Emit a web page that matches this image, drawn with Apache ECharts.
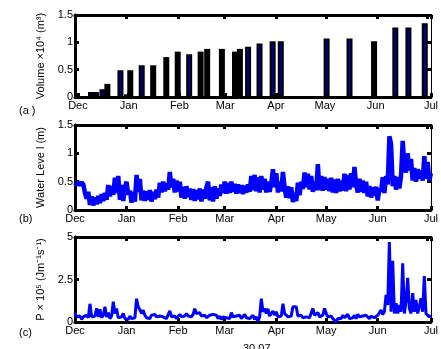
<!DOCTYPE html>
<html>
<head>
<meta charset="utf-8">
<script src="https://cdn.jsdelivr.net/npm/echarts@6/dist/echarts.min.js"></script>
<style>
html,body{margin:0;padding:0;background:#fff;}
#c{width:441px;height:349px;}
</style>
</head>
<body>
<div id="c"></div>
<script>
// ---------- DATA ----------
const monthLabels = ['Dec','Jan','Feb','Mar','Apr','May','Jun','Jul'];

// Volume (x10^4 m^3) – bars drawn blue with black edge
const volumeBlueDates = ['2006-12-09','2006-12-12','2006-12-16','2006-12-27','2007-01-09','2007-02-07','2007-03-15','2007-03-22','2007-03-30','2007-04-04','2007-05-02','2007-05-16','2007-06-13','2007-06-21','2007-07-01'];
const volumeBlueValues = [0.09,0.09,0.14,0.49,0.58,0.78,0.92,0.98,1.02,1.02,1.07,1.07,1.27,1.27,1.35];
// Volume bars drawn solid black
const volumeBlackDates = ['2006-12-19','2006-12-31','2007-01-02','2007-01-16','2007-01-24','2007-01-31','2007-02-14','2007-02-18','2007-02-27','2007-03-07','2007-03-10','2007-05-31'];
const volumeBlackValues = [0.24,0.05,0.49,0.58,0.73,0.83,0.83,0.88,0.88,0.83,0.88,1.02];

// Water level (m), daily from 1 Dec 2006
const levelValues = [
0.48,0.44,0.50,0.43,0.49,0.45, 0.30,0.20,0.32, 0.09,0.24,0.08,0.22,0.10,0.25,0.12,
0.28,0.16,0.30,0.18, 0.44,0.24,0.42, 0.27,0.57,0.30,0.60, 0.18,0.44,0.16,0.40,
0.50,0.27, 0.34,0.13,0.32,0.15, 0.62,0.32,0.55,
0.17,0.34,0.16,0.33,0.18,0.35,0.15,0.32,0.19,0.36,0.22,
0.48,0.31,0.50,0.33,0.47,0.36, 0.67,0.40, 0.55,0.31,0.52,0.33,0.50,
0.22,0.41,0.20,0.42,0.23,0.38,0.18,
0.37,0.16,0.35,0.19,0.38,0.15,0.36,0.20,0.40,0.50,
0.17,0.40,0.15,0.42,0.20,0.38,0.25,0.45,0.30,
0.50,0.29,0.48,0.30,0.50,0.32,0.46,
0.29,0.45,0.30,0.44,0.28,0.43,0.31,0.45,
0.32,0.60,0.35,0.62,0.33,0.58,0.31,0.60,0.36,0.55,
0.31,0.50,0.32,0.48, 0.72,0.40,0.65, 0.31,0.50,0.33, 0.67,0.40,
0.22,0.42,0.21,0.40, 0.14,0.30,0.16, 0.48,0.26,0.50,
0.37,0.66,0.40,0.64,0.36,0.60, 0.32,0.50,0.35, 0.81,
0.35,0.60,0.34,0.58,0.36,0.55,0.33,0.57,
0.31,0.54,0.30,0.55,0.33,0.52,
0.34,0.64,0.33,0.62,0.36,0.65,0.40, 0.76,0.45,
0.31,0.55,0.32,0.52,0.30,0.50,
0.24,0.42,0.22,0.40,0.25,0.41,0.17,0.38,
0.32,0.58,0.30,0.60,0.45, 1.30, 1.17,0.42,0.60,
0.36,0.58,0.38,0.60, 1.22,0.80, 0.66,1.00,0.70,0.90,
0.52,0.74,0.50,0.72,0.55,0.70, 0.52,0.95,0.55,0.85, 0.52,0.65
];

// P (x10^5 J m^-1 s^-1), daily from 1 Dec 2006
const powerValues = [
0.53,0.30,0.20,0.35,0.15,0.30,0.20,0.40,0.25, 1.07, 0.30,0.20,0.35, 0.80, 0.30, 0.75,
0.25,0.40, 0.90, 0.30, 0.55, 0.20,0.35, 1.20, 0.50, 0.80, 0.25,0.20,0.30, 0.50,
0.20,0.30,0.15,0.35,0.20,0.30,0.25, 1.37, 0.90, 0.72,0.50,0.70,0.40, 0.25,0.35,0.20,
0.40,0.30,0.45,0.30,0.40,0.35,0.45,0.30,0.40, 0.20,0.10, 0.65,
0.30,0.25,0.35,0.20,0.30, 0.45, 0.30,0.40,0.35, 0.50, 0.35,0.40,0.30,0.45, 0.78,
0.50,0.40, 0.55, 0.35,0.30,0.40,0.25,0.35, 0.40,0.30,0.45,0.35,0.40,
0.20,0.35,0.15,0.30,0.40,0.25,0.35,0.20,0.55,0.30,0.20,0.35,0.25,0.40,0.20,0.30,0.45,0.25,0.35,0.20,0.30,0.40,0.15,0.30,0.05,
0.30, 1.37, 0.60, 0.80,0.50,0.78,0.35, 0.30, 0.65,0.40,0.60, 0.30,0.20,0.35, 1.07,
0.50,0.55, 0.30,0.20,0.35, 0.90,0.85,0.90, 0.35,
0.30,0.40,0.25,0.35,0.30,0.40,0.25,0.30, 0.80, 0.40,0.30, 0.55, 0.30,0.35,0.40, 0.80,
0.50,0.30,0.25,0.35,0.20,0.10, 0.00, 0.20,
0.30,0.20,0.40,0.25,0.35,0.45,0.20,0.30,0.25,0.40,0.20,0.45,0.30,0.20,0.35,0.25,0.40,0.30,0.20,0.35,0.45,0.25,0.30,0.40,
0.50,0.70,0.45,0.60, 1.60, 1.00, 4.70, 0.60, 3.60, 0.50, 1.10, 0.50, 1.00, 0.60, 3.45,
0.50, 1.20, 2.60, 0.80, 0.50, 1.70, 0.60, 1.30, 0.50, 0.90, 1.40, 0.60, 2.70, 0.50, 0.55, 0.30, 0.40
];

const yTicksA = [0, 0.5, 1, 1.5];
const yTicksB = [0, 0.5, 1, 1.5];
const yTicksC = [0, 2.5, 5];

// ---------- CHART ----------
function dayTime(i){ return new Date(2006, 11, 1 + i).getTime(); }
const xMin = new Date(2006, 11, 1).getTime();
const xMax = new Date(2007, 6, 3).getTime();
const DAY = 86400000;

const FONT = 'Liberation Sans, Arial, sans-serif';
const grids = [
  {left: 75, top: 15, width: 365.5, height: 82},
  {left: 75, top: 125, width: 365.5, height: 85},
  {left: 75, top: 237, width: 365.5, height: 85}
];

function xAxisBottom(gi){
  return {
    type: 'time', gridIndex: gi, min: xMin, max: xMax,
    splitNumber: 7, minInterval: 28 * DAY, maxInterval: 31 * DAY,
    axisLine: {show: true, onZero: false, lineStyle: {color: '#000', width: 3}},
    axisTick: {show: true, inside: true, length: 4, lineStyle: {color: '#000', width: 3}},
    axisLabel: {
      show: true, margin: 3, color: '#000', fontSize: 11, fontFamily: FONT,
      formatter: function(v){ return monthLabels[(new Date(v).getMonth() + 1) % 12]; },
      showMinLabel: true, showMaxLabel: true, hideOverlap: false,
      alignMinLabel: 'center', alignMaxLabel: 'center'
    },
    splitLine: {show: false}
  };
}
function xAxisTop(gi){
  const a = xAxisBottom(gi);
  a.position = 'top';
  a.axisLabel = {show: false};
  return a;
}
function yAxisLeft(gi, ticks, name, gap){
  const step = ticks[1] - ticks[0];
  return {
    type: 'value', gridIndex: gi, min: ticks[0], max: ticks[ticks.length - 1], interval: step,
    name: name, nameLocation: 'middle', nameGap: gap, nameRotate: 90,
    nameTextStyle: {color: '#000', fontSize: 11, fontFamily: FONT},
    axisLine: {show: true, lineStyle: {color: '#000', width: 3}},
    axisTick: {show: true, inside: true, length: 4, lineStyle: {color: '#000', width: 3}},
    axisLabel: {show: true, margin: 2, color: '#000', fontSize: 11, fontFamily: FONT},
    splitLine: {show: false}
  };
}
function yAxisRight(gi, ticks){
  const step = ticks[1] - ticks[0];
  return {
    type: 'value', gridIndex: gi, position: 'right', min: ticks[0], max: ticks[ticks.length - 1], interval: step,
    axisLine: {show: true, lineStyle: {color: '#000', width: 1}},
    axisTick: {show: true, inside: true, length: 4, lineStyle: {color: '#000', width: 3}},
    axisLabel: {show: false},
    splitLine: {show: false}
  };
}

const chart = echarts.init(document.getElementById('c'), null, {renderer: 'canvas'});
chart.setOption({
  animation: false,
  backgroundColor: '#fff',
  grid: grids,
  xAxis: [xAxisBottom(0), xAxisTop(0), xAxisBottom(1), xAxisTop(1), xAxisBottom(2), xAxisTop(2)],
  yAxis: [
    yAxisLeft(0, yTicksA, 'Volume \u00d710\u2074 (m\u00b3)', 28), yAxisRight(0, yTicksA),
    yAxisLeft(1, yTicksB, 'Water Leve l (m)', 28), yAxisRight(1, yTicksB),
    yAxisLeft(2, yTicksC, 'P \u00d7 10\u2075 (Jm\u207b\u00b9s\u207b\u00b9)', 28), yAxisRight(2, yTicksC)
  ],
  series: [
    {
      type: 'bar', xAxisIndex: 0, yAxisIndex: 0, barWidth: 6, barGap: '-100%',
      itemStyle: {color: '#000', borderColor: '#000', borderWidth: 0},
      data: volumeBlackDates.map((d, i) => [d, volumeBlackValues[i]])
    },
    {
      type: 'bar', xAxisIndex: 0, yAxisIndex: 0, barWidth: 6, barGap: '-100%',
      itemStyle: {color: '#00008f', borderColor: '#000', borderWidth: 2},
      data: volumeBlueDates.map((d, i) => [d, volumeBlueValues[i]])
    },
    {
      type: 'line', xAxisIndex: 2, yAxisIndex: 2, symbol: 'none', clip: true,
      lineStyle: {color: '#0000ff', width: 4.5},
      data: levelValues.map((v, i) => [dayTime(i), v])
    },
    {
      type: 'line', xAxisIndex: 4, yAxisIndex: 4, symbol: 'none', clip: true,
      lineStyle: {color: '#0000ff', width: 3},
      data: powerValues.map((v, i) => [dayTime(i), v])
    }
  ],
  graphic: [
    {type: 'text', left: 19, top: 105, style: {text: '(a )', fontSize: 11, fontFamily: FONT, fill: '#000'}},
    {type: 'text', left: 19, top: 213, style: {text: '(b)', fontSize: 11, fontFamily: FONT, fill: '#000'}},
    {type: 'text', left: 19, top: 327, style: {text: '(c)', fontSize: 11, fontFamily: FONT, fill: '#000'}},
    {type: 'text', left: 243, top: 343, style: {text: '30.07', fontSize: 11, fontFamily: FONT, fill: '#000'}}
  ]
});
</script>
</body>
</html>
